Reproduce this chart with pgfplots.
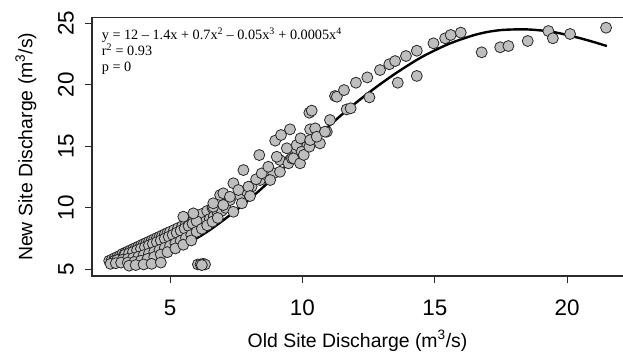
\documentclass[border=0pt]{standalone}
\usepackage{pgfplots}
\pgfplotsset{compat=1.18}
\usepackage{fontspec}
\setmainfont{Liberation Sans}
\newfontfamily\serifann{Liberation Serif}
\definecolor{ptfill}{HTML}{BEBEBE}
\definecolor{axcol}{HTML}{2B2B2B}
\begin{document}
\begin{tikzpicture}
\begin{axis}[name=ax,
  scale only axis, width=535bp, height=258.5bp,
  xmin=2.05, xmax=22.26, ymin=4.46, ymax=25.47,
  xtick pos=left, ytick pos=left,
  xtick={5,10,15,20}, ytick={5,10,15,20,25},
  tick align=outside, major tick length=7bp,
  every tick/.style={axcol, line width=1.1bp},
  axis line style={axcol, line width=1.4bp},
  /pgf/number format/assume math mode=true,
  tick label style={font=\fontsize{22.5}{24}\selectfont, inner sep=0pt},
  xticklabel style={anchor=north},
  yticklabel style={rotate=90, anchor=south},
  xticklabel shift=17bp, yticklabel shift=11bp,
  xlabel={Old Site Discharge (m\textsuperscript{3}/s)},
  ylabel={New Site Discharge (m\textsuperscript{3}/s)},
  label style={font=\fontsize{19.5}{21}\selectfont},
  x label style={at={(axis description cs:0.4963,-0.2515)}, anchor=center},
  y label style={at={(axis description cs:-0.1234,0.5)}, anchor=center},
  clip=false,
]
\addplot[only marks, mark=*, mark size=5.5bp,
  mark options={fill=ptfill, draw=black!85, line width=0.8bp}] table {
x y
2.70 5.70
2.80 5.80
2.90 5.90
3.00 6.00
3.10 6.10
3.20 6.25
3.30 6.35
3.40 6.45
3.50 6.55
3.60 6.65
3.70 6.75
3.80 6.85
3.90 6.95
4.00 7.05
4.10 7.15
4.20 7.25
4.30 7.35
4.40 7.45
4.50 7.55
4.60 7.65
4.70 7.75
4.80 7.85
4.90 7.95
5.00 8.05
5.15 8.20
5.30 8.35
5.45 8.50
5.60 8.70
5.75 8.90
5.90 9.10
6.05 9.30
6.20 9.50
6.40 9.75
6.60 10.00
2.90 5.70
3.05 5.80
3.20 5.90
3.35 6.00
3.50 6.10
3.65 6.20
3.80 6.30
3.95 6.45
4.10 6.55
4.25 6.65
4.40 6.80
4.55 6.90
4.70 7.05
4.85 7.15
5.00 7.30
5.15 7.45
5.30 7.60
5.45 7.75
5.60 7.95
5.75 8.10
5.90 8.30
6.05 8.50
6.20 8.70
6.35 8.90
6.50 9.10
6.65 9.30
6.80 9.55
6.95 9.75
7.10 10.00
3.30 6.20
3.45 6.30
3.60 6.42
3.75 6.55
3.90 6.68
4.05 6.80
4.20 6.95
4.35 7.08
4.50 7.22
4.65 7.35
4.80 7.50
4.95 7.65
5.10 7.80
5.25 7.98
5.40 8.15
5.55 8.32
5.70 8.52
5.85 8.72
6.00 8.92
3.00 5.75
3.20 5.78
3.40 5.85
3.60 5.92
3.80 6.02
4.00 6.15
4.20 6.28
4.40 6.42
4.60 6.58
4.80 6.75
5.00 6.92
5.20 7.12
5.40 7.32
5.60 7.55
5.80 7.80
6.00 8.05
6.20 8.30
6.40 8.58
6.60 8.88
6.80 9.18
2.75 5.45
2.95 5.50
3.15 5.55
3.40 5.55
3.65 5.60
3.90 5.70
4.15 5.85
4.40 6.00
4.65 6.20
4.90 6.40
5.20 6.70
5.50 7.00
5.80 7.35
3.45 5.30
3.70 5.35
4.00 5.40
4.30 5.45
4.65 5.55
6.05 5.40
6.15 5.40
6.25 5.45
6.32 5.40
6.20 5.35
5.50 9.28
5.88 9.55
6.63 10.09
7.26 10.63
7.64 11.04
7.90 11.31
8.08 11.72
8.40 12.26
8.65 12.67
8.90 12.80
9.15 13.89
9.53 13.89
9.78 14.70
10.16 14.97
10.41 15.65
10.66 15.24
10.92 16.19
6.63 10.37
6.89 11.04
7.01 10.23
7.01 11.18
7.26 10.90
7.39 9.68
7.39 12.00
7.58 11.45
7.71 10.37
7.77 13.07
7.96 11.72
8.02 10.96
8.25 12.32
8.37 14.29
8.46 12.80
8.71 13.34
8.78 12.26
8.97 15.46
9.03 14.15
9.15 12.93
9.19 15.92
9.41 14.84
9.47 13.62
9.53 16.38
9.60 14.02
9.66 14.02
9.78 15.10
9.91 13.62
9.93 15.65
9.97 14.56
10.05 14.30
10.26 14.97
10.26 17.73
10.29 16.38
10.29 15.51
10.35 17.90
10.48 16.46
10.54 15.78
10.85 16.19
11.04 17.14
11.23 19.09
11.30 19.03
11.57 19.57
11.67 18.00
11.82 18.09
12.02 20.17
12.45 20.60
12.53 18.98
12.93 21.20
13.28 21.67
13.50 21.93
13.60 20.17
13.91 22.34
14.32 22.77
14.32 20.72
14.95 23.37
15.39 23.78
15.60 24.05
15.98 24.24
16.77 22.64
17.47 23.05
17.78 23.15
18.51 23.56
19.29 24.37
19.46 23.78
20.11 24.13
21.47 24.64
};
\addplot[black, line width=2.4bp, smooth] table {
x y
2.70 5.58
3.00 5.60
3.50 5.70
4.00 5.88
4.50 6.15
5.00 6.50
5.50 6.95
6.00 7.52
6.50 8.20
7.00 8.98
7.50 9.80
8.00 10.70
8.50 11.65
9.00 12.65
9.50 13.65
10.00 14.65
10.50 15.65
11.00 16.65
11.50 17.60
12.00 18.50
12.50 19.35
13.00 20.15
13.50 20.90
14.00 21.60
14.50 22.25
15.00 22.80
15.50 23.30
16.00 23.70
16.50 24.05
17.00 24.30
17.50 24.45
18.00 24.50
18.50 24.50
19.00 24.42
19.50 24.28
20.00 24.05
20.50 23.78
21.00 23.48
21.50 23.15
};
\node[anchor=north west, align=left, inner sep=0pt,
  font=\serifann\fontsize{14.3}{16}\selectfont]
  at (axis description cs:0.018,0.96)
  {y = 12 – 1.4x + 0.7x\textsuperscript{2} – 0.05x\textsuperscript{3} + 0.0005x\textsuperscript{4}\\
   r\textsuperscript{2} = 0.93\\
   p = 0};
\end{axis}
\pgfresetboundingbox
\path ([xshift=-92bp,yshift=-78bp]ax.south west) rectangle ([xshift=-4bp,yshift=17.5bp]ax.north east);
\end{tikzpicture}
\end{document}
